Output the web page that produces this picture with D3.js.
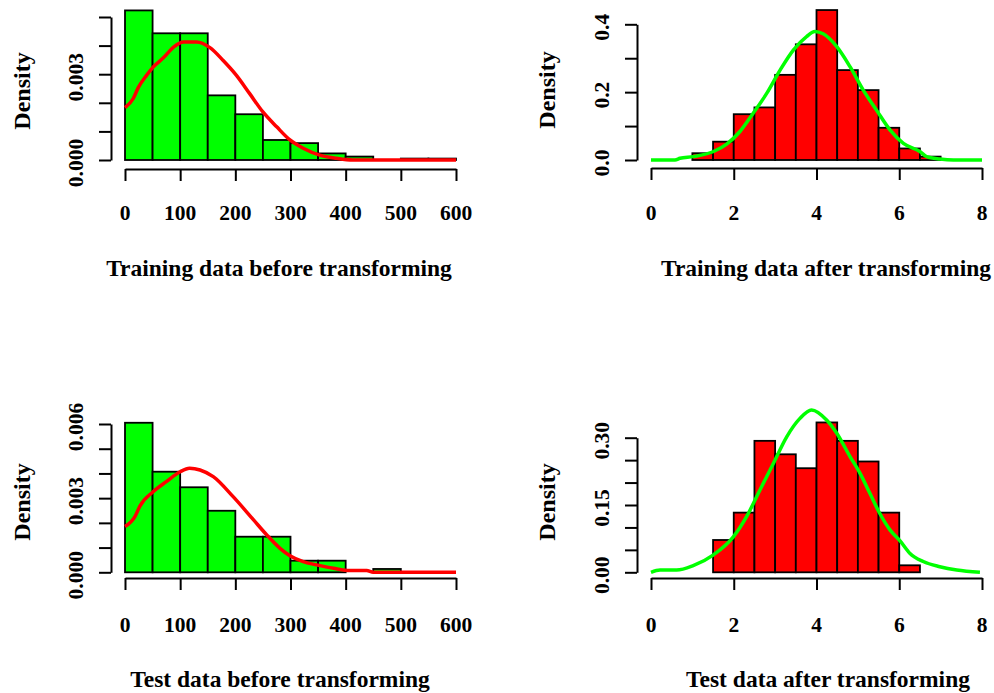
<!DOCTYPE html>
<html>
<head>
<meta charset="utf-8">
<script src="https://cdn.jsdelivr.net/npm/d3@7"></script>
<style>
  body { margin: 0; background: #fff; }
  svg text { font-family: "Liberation Serif", "DejaVu Serif", serif; font-weight: bold; fill: #000; }
</style>
</head>
<body>
<svg id="graph" width="994" height="693"></svg>
<script>
// bin edges and densities
var trainBeforeBreaks = [0, 50, 100, 150, 200, 250, 300, 350, 400, 450, 500, 550, 600];
var trainBeforeDensity = [0.00523, 0.00443, 0.00443, 0.00226, 0.0016, 0.0007, 0.00059, 0.00023, 0.00012, 0, 0.00005, 0.00005];
var trainBeforeCurveX = [0, 15, 24, 39, 51, 70, 88, 106, 130, 154, 178, 202, 226, 250, 275, 299, 323, 353, 383, 413, 600];
var trainBeforeCurveY = [0.00183, 0.00215, 0.00253, 0.00296, 0.00325, 0.00358, 0.00395, 0.00413, 0.00413, 0.00393, 0.00348, 0.00296, 0.00232, 0.00168, 0.00116, 0.0007, 0.00041, 0.00017, 0.00006, 0, 0];

var trainAfterBreaks = [1, 1.5, 2, 2.5, 3, 3.5, 4, 4.5, 5, 5.5, 6, 6.5, 7];
var trainAfterDensity = [0.02, 0.054, 0.135, 0.155, 0.251, 0.341, 0.442, 0.265, 0.206, 0.095, 0.034, 0.01];
var trainAfterCurveX = [0, 0.58, 0.7, 1.02, 1.51, 1.83, 2.15, 2.47, 2.8, 3.12, 3.44, 3.76, 3.96, 4.16, 4.49, 4.81, 5.13, 5.45, 5.78, 6.1, 6.5, 6.66, 6.98, 7.31, 8];
var trainAfterCurveY = [0, 0, 0.005, 0.01, 0.025, 0.047, 0.084, 0.138, 0.197, 0.265, 0.324, 0.364, 0.379, 0.372, 0.334, 0.275, 0.206, 0.147, 0.088, 0.049, 0.025, 0.01, 0.003, 0, 0];

var testBeforeBreaks = [0, 50, 100, 150, 200, 250, 300, 350, 400, 450, 500, 550, 600];
var testBeforeDensity = [0.00605, 0.00407, 0.00344, 0.00249, 0.00144, 0.00144, 0.00047, 0.00047, 0, 0.000135, 0, 0];
var testBeforeCurveX = [0, 18, 27, 51, 75, 100, 117, 136, 160, 196, 233, 257, 281, 299, 323, 347, 378, 408, 438, 450, 600];
var testBeforeCurveY = [0.00185, 0.00225, 0.00268, 0.00326, 0.00367, 0.00407, 0.00421, 0.00414, 0.00387, 0.00306, 0.00212, 0.00151, 0.00097, 0.00067, 0.00043, 0.0003, 0.00016, 0.00007, 0.00007, 0, 0];

var testAfterBreaks = [1.5, 2, 2.5, 3, 3.5, 4, 4.5, 5, 5.5, 6, 6.5];
var testAfterDensity = [0.072, 0.133, 0.293, 0.263, 0.232, 0.334, 0.293, 0.247, 0.133, 0.0156];
var testAfterCurveX = [0, 0.22, 0.62, 1.02, 1.51, 1.99, 2.31, 2.63, 2.96, 3.28, 3.6, 3.88, 4.25, 4.49, 4.81, 5.05, 5.29, 5.53, 5.78, 6.02, 6.26, 6.58, 6.98, 7.39, 7.95];
var testAfterCurveY = [0, 0.005, 0.005, 0.015, 0.039, 0.079, 0.124, 0.183, 0.243, 0.302, 0.343, 0.362, 0.339, 0.31, 0.258, 0.221, 0.176, 0.131, 0.094, 0.07, 0.042, 0.024, 0.0125, 0.005, 0];

// ticks
var xTicksBefore = [0, 100, 200, 300, 400, 500, 600];
var xTicksAfter = [0, 2, 4, 6, 8];
var yTicksTrainBefore = [0, 0.001, 0.002, 0.003, 0.004, 0.005];
var yLabelsTrainBefore = ["0.000", "", "", "0.003", "", ""];
var yTicksTrainAfter = [0, 0.1, 0.2, 0.3, 0.4];
var yLabelsTrainAfter = ["0.0", "", "0.2", "", "0.4"];
var yTicksTestBefore = [0, 0.001, 0.002, 0.003, 0.004, 0.005, 0.006];
var yLabelsTestBefore = ["0.000", "", "", "0.003", "", "", "0.006"];
var yTicksTestAfter = [0, 0.05, 0.10, 0.15, 0.20, 0.25, 0.30];
var yLabelsTestAfter = ["0.00", "", "", "0.15", "", "", "0.30"];

var svg = d3.select("#graph");

function panel(o){
  var x = d3.scaleLinear().domain([o.xTicks[0], o.xTicks[o.xTicks.length-1]]).range([o.x0, o.x1]);
  var y = d3.scaleLinear().domain([0, o.yTicks[o.yTicks.length-1]]).range([o.yBase, o.yTop]);
  var g = svg.append("g");

  // bars
  var bins = o.density.map(function(d, i){ return {a: o.breaks[i], b: o.breaks[i+1], d: d}; });
  g.selectAll("rect.bar")
    .data(bins.filter(function(d){ return d.d > 0; }))
    .enter().append("rect")
    .attr("class", "bar")
    .attr("x", function(d){ return x(d.a); })
    .attr("width", function(d){ return x(d.b) - x(d.a); })
    .attr("y", function(d){ return y(d.d); })
    .attr("height", function(d){ return y(0) - y(d.d); })
    .attr("fill", o.fill)
    .attr("stroke", "#000")
    .attr("stroke-width", 1.8);

  // density curve
  var pts = o.cx.map(function(v, i){ return [v, o.cy[i]]; });
  g.append("path")
    .datum(pts)
    .attr("fill", "none")
    .attr("stroke", o.line)
    .attr("stroke-width", 3.5)
    .attr("stroke-linejoin", "round")
    .attr("d", d3.line().x(function(d){ return x(d[0]); }).y(function(d){ return y(d[1]); }).curve(d3.curveMonotoneX));

  // x axis
  var xa = g.append("g")
    .attr("transform", "translate(0," + o.xAxisY + ")")
    .call(d3.axisBottom(x).tickValues(o.xTicks).tickSize(12).tickSizeOuter(0).tickFormat(""));
  xa.selectAll("path, line").attr("stroke", "#000").attr("stroke-width", 2);
  g.selectAll("text.xt")
    .data(o.xTicks)
    .enter().append("text")
    .attr("class", "xt")
    .attr("x", function(d){ return x(d); })
    .attr("y", o.xLabelY)
    .attr("dy", "0.35em")
    .attr("text-anchor", "middle")
    .style("font-size", "21.5px")
    .text(function(d){ return d; });

  // y axis
  var ya = g.append("g")
    .attr("transform", "translate(" + o.yAxisX + ",0)")
    .call(d3.axisLeft(y).tickValues(o.yTicks).tickSize(12).tickSizeOuter(0).tickFormat(""));
  ya.selectAll("path, line").attr("stroke", "#000").attr("stroke-width", 2);
  g.selectAll("text.yt")
    .data(o.yTicks)
    .enter().append("text")
    .attr("class", "yt")
    .attr("transform", function(d){ return "translate(" + o.yLabelX + "," + (y(d) + 3) + ") rotate(-90)"; })
    .attr("dy", "0.35em")
    .attr("text-anchor", "middle")
    .style("font-size", "21.5px")
    .text(function(d, i){ return o.yLabels[i]; });

  // titles
  g.append("text")
    .attr("x", o.titleX)
    .attr("y", o.titleY)
    .attr("dy", "0.35em")
    .attr("text-anchor", "middle")
    .style("font-size", "23.5px")
    .text(o.title);
  g.append("text")
    .attr("transform", "translate(" + o.densX + "," + o.densY + ") rotate(-90)")
    .attr("dy", "0.35em")
    .attr("text-anchor", "middle")
    .style("font-size", "24px")
    .text("Density");
}

panel({breaks: trainBeforeBreaks, density: trainBeforeDensity, cx: trainBeforeCurveX, cy: trainBeforeCurveY,
  xTicks: xTicksBefore, yTicks: yTicksTrainBefore, yLabels: yLabelsTrainBefore,
  fill: "#00ff00", line: "#ff0000", title: "Training data before transforming",
  x0: 125, x1: 456, yBase: 160, yTop: 17, xAxisY: 169, yAxisX: 111,
  xLabelY: 212, yLabelX: 75, titleX: 279, titleY: 268, densX: 22, densY: 91});

panel({breaks: trainAfterBreaks, density: trainAfterDensity, cx: trainAfterCurveX, cy: trainAfterCurveY,
  xTicks: xTicksAfter, yTicks: yTicksTrainAfter, yLabels: yLabelsTrainAfter,
  fill: "#ff0000", line: "#00ff00", title: "Training data after transforming",
  x0: 651, x1: 982, yBase: 160, yTop: 24.3, xAxisY: 168, yAxisX: 637,
  xLabelY: 212, yLabelX: 601, titleX: 826, titleY: 268, densX: 547, densY: 90});

panel({breaks: testBeforeBreaks, density: testBeforeDensity, cx: testBeforeCurveX, cy: testBeforeCurveY,
  xTicks: xTicksBefore, yTicks: yTicksTestBefore, yLabels: yLabelsTestBefore,
  fill: "#00ff00", line: "#ff0000", title: "Test data before transforming",
  x0: 125, x1: 456, yBase: 572.3, yTop: 424, xAxisY: 578, yAxisX: 111,
  xLabelY: 624, yLabelX: 75, titleX: 280, titleY: 679, densX: 22, densY: 502});

panel({breaks: testAfterBreaks, density: testAfterDensity, cx: testAfterCurveX, cy: testAfterCurveY,
  xTicks: xTicksAfter, yTicks: yTicksTestAfter, yLabels: yLabelsTestAfter,
  fill: "#ff0000", line: "#00ff00", title: "Test data after transforming",
  x0: 651, x1: 982, yBase: 572.3, yTop: 437.7, xAxisY: 578, yAxisX: 637,
  xLabelY: 624, yLabelX: 601, titleX: 828, titleY: 679, densX: 547, densY: 502});
</script>
</body>
</html>
